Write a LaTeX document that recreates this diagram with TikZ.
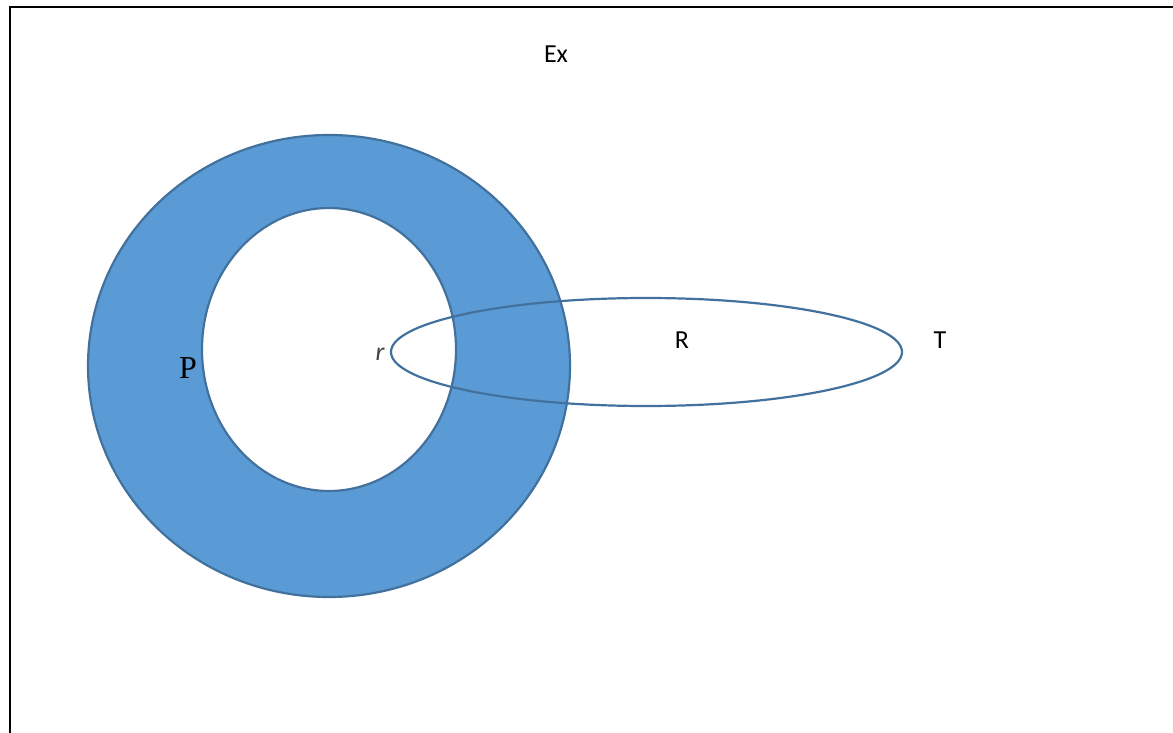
\documentclass[tikz,border=0pt]{standalone}
\usepackage{fontspec}
\setmainfont{Carlito}
\newfontfamily\serifP{Liberation Serif}
\definecolor{ringfill}{HTML}{5B9BD5}
\definecolor{ringline}{HTML}{41719C}
\definecolor{darktext}{HTML}{404040}
\begin{document}
\begin{tikzpicture}[x=1pt,y=-1pt,
  shape line/.style={draw=ringline,line width=2.2pt},
  label text/.style={font=\fontsize{26}{29}\selectfont,text=black,inner sep=0pt}]
\useasboundingbox (0,0) rectangle (1173,733);
% outer frame (runs past the right and bottom edges)
\draw[line width=2.2pt] (10,760) -- (10,7) -- (1200,7);
% shaded ring P
\fill[ringfill,even odd rule] (329,366) ellipse [x radius=241,y radius=231]
  (329,349.5) ellipse [x radius=127,y radius=141.5];
\draw[shape line] (329,366) ellipse [x radius=241,y radius=231];
\draw[shape line] (329,349.5) ellipse [x radius=127,y radius=141.5];
% ellipse R
\draw[shape line] (646.5,352) ellipse [x radius=255.5,y radius=54];
% labels
\node[label text] (ex) at (556,54) {Ex};
\node[label text] (rr) at (682,340) {R};
\node[label text] (tt) at (940,340) {T};
\node[inner sep=0pt,font=\serifP\fontsize{32}{34}\selectfont] (pp) at (188,368) {P};
\node[inner sep=0pt,text=darktext,font=\itshape\fontsize{26}{29}\selectfont] (sr) at (380,354) {r};
\end{tikzpicture}
\end{document}
